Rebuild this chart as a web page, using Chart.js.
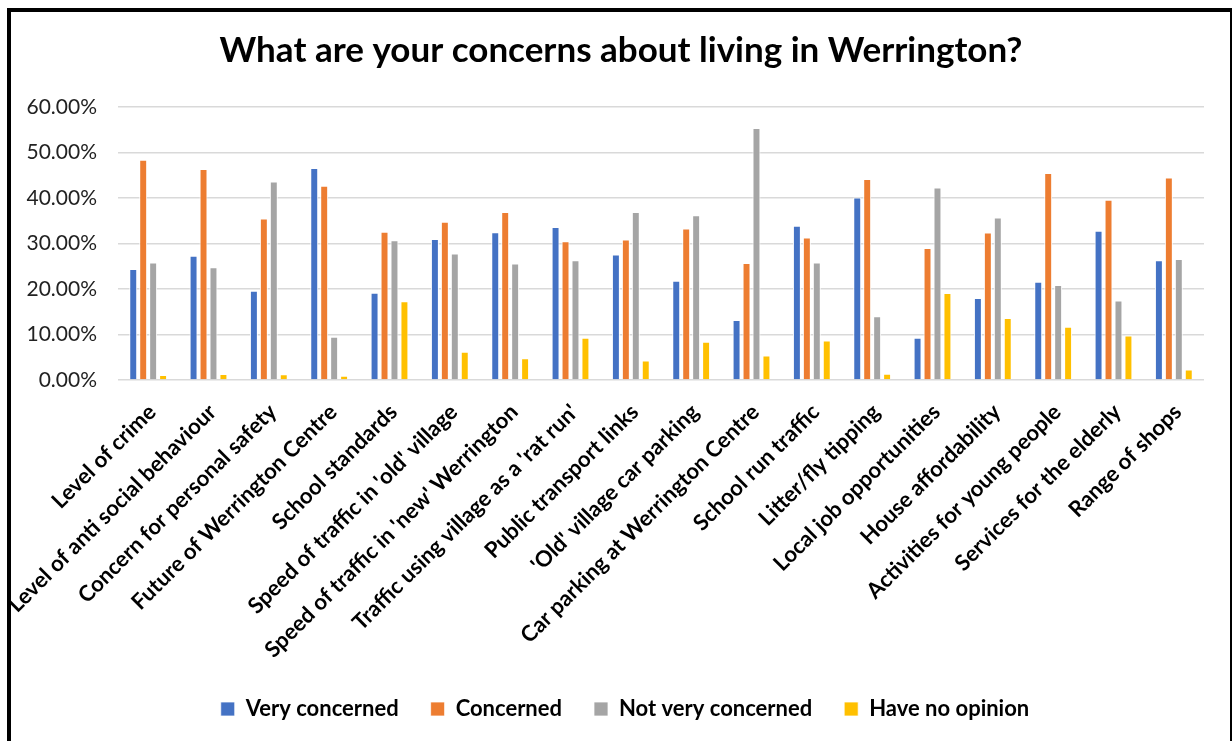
<!DOCTYPE html>
<html>
<head>
<meta charset="utf-8">
<script src="https://cdn.jsdelivr.net/npm/chart.js@4"></script>
<style>
  html, body { margin: 0; padding: 0; background: #fff; overflow: hidden; }
  #frame { position: absolute; left: 7px; top: 8px; width: 1225px; height: 800px;
           border-left: 4px solid #000; border-top: 4px solid #000; border-right: 2px solid #000;
           box-sizing: border-box; }
  #wrap { position: absolute; left: 0; top: 0; width: 1232px; height: 741px; }
</style>
</head>
<body>
<div id="frame"></div>
<div id="wrap"><canvas id="chart" width="1232" height="741"></canvas></div>
<script>
const categories = [
  "Level of crime", "Level of anti social behaviour", "Concern for personal safety",
  "Future of Werrington Centre", "School standards", "Speed of traffic in 'old' village",
  "Speed of traffic in 'new' Werrington", "Traffic using village as a 'rat run'",
  "Public transport links", "'Old' village car parking", "Car parking at Werrington Centre",
  "School run traffic", "Litter/fly tipping", "Local job opportunities",
  "House affordability", "Activities for young people", "Services for the elderly", "Range of shops"
];

const veryConcerned    = [24.4, 27.3, 19.6, 46.6, 19.2, 31.0, 32.5, 33.6, 27.6, 21.8, 13.2, 33.9, 40.1,  9.3, 18.0, 21.6, 32.8, 26.3];
const concerned        = [48.4, 46.4, 35.5, 42.7, 32.6, 34.8, 36.9, 30.5, 30.9, 33.3, 25.7, 31.3, 44.2, 29.0, 32.4, 45.5, 39.6, 44.5];
const notVeryConcerned = [25.8, 24.8, 43.6,  9.5, 30.7, 27.8, 25.6, 26.3, 36.9, 36.2, 55.4, 25.8, 14.0, 42.3, 35.7, 20.9, 17.5, 26.6];
const noOpinion        = [ 1.1,  1.3,  1.25, 0.95, 17.3, 6.2,  4.8,  9.3,  4.3,  8.4,  5.4,  8.7,  1.4, 19.1, 13.6, 11.7,  9.8,  2.3];

const seriesNames  = ["Very concerned", "Concerned", "Not very concerned", "Have no opinion"];
const seriesColors = ["#4472C4", "#ED7D31", "#A5A5A5", "#FFC000"];

const yMax  = 60;
const yStep = 10;

const FONT = "Lato, 'Open Sans', sans-serif";

const allSeries = [veryConcerned, concerned, notVeryConcerned, noOpinion];
const datasets  = allSeries.map((vals, i) => ({
  label: seriesNames[i],
  data: vals,
  backgroundColor: seriesColors[i],
  borderColor: '#ffffff',
  borderWidth: { top: 1, left: 1, right: 1, bottom: 0 },
  categoryPercentage: 0.66,
  barPercentage: 0.8
}));

// title and legend sit a little right of the plot centre in the original
const nudgeBoxes =
{
  id: 'nudgeBoxes',
  afterLayout(chart)
  {
    chart.titleBlock.left  += 10;
    chart.titleBlock.right += 10;
    chart.legend.left      += 14;
    chart.legend.right     += 14;
  }
};

const ctx = document.getElementById('chart').getContext('2d');
const chart = new Chart(ctx,
{
  type: 'bar',
  data: { labels: categories, datasets: datasets },
  plugins: [nudgeBoxes],
  options:
  {
    responsive: false,
    animation: false,
    layout: { padding: { left: 18, right: 28, top: 0, bottom: 11 } },
    plugins:
    {
      title:
      {
        display: true,
        text: 'What are your concerns about living in Werrington?',
        color: '#000',
        font: { family: FONT, size: 35, weight: 'bold' },
        padding: { top: 30, bottom: 35 }
      },
      legend:
      {
        position: 'bottom',
        labels:
        {
          color: '#000',
          font: { family: FONT, size: 22, weight: 'bold' },
          boxWidth: 14, boxHeight: 14, padding: 32
        }
      },
      tooltip: { enabled: false }
    },
    scales:
    {
      x:
      {
        grid: { display: false },
        border: { display: false },
        ticks:
        {
          color: '#000',
          font: { family: FONT, size: 22, weight: 'bold' },
          minRotation: 45, maxRotation: 45, autoSkip: false,
          padding: 11, labelOffset: 4
        },
        afterFit: s => { s.height = 286; }
      },
      y:
      {
        min: 0, max: yMax,
        ticks:
        {
          stepSize: yStep,
          color: '#222',
          padding: 21,
          font: { family: FONT, size: 21 },
          callback: v => v.toFixed(2) + '%'
        },
        grid: { color: '#d9d9d9', lineWidth: 1.5, drawTicks: false },
        border: { display: false },
        afterFit: s => { s.width = 100; }
      }
    }
  }
});
</script>
</body>
</html>
